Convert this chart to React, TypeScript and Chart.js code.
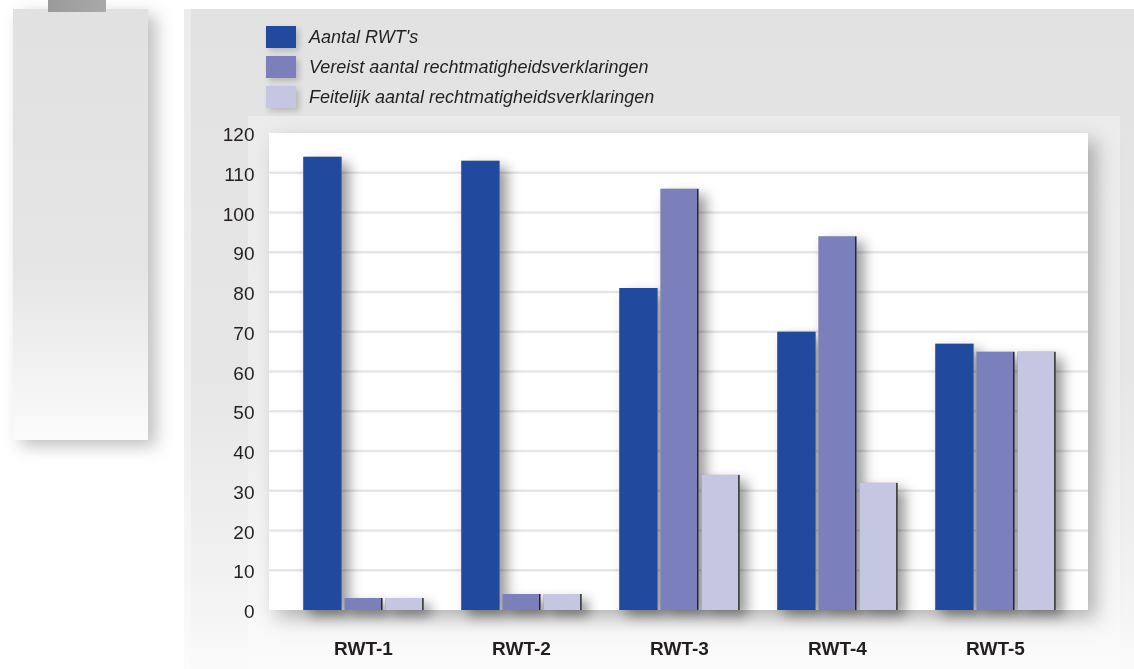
import React, { useEffect, useRef } from "react";
import { Chart, registerables } from "chart.js";
Chart.register(...registerables);

const categories = ["RWT-1", "RWT-2", "RWT-3", "RWT-4", "RWT-5"];
const seriesNames = [
  "Aantal RWT's",
  "Vereist aantal rechtmatigheidsverklaringen",
  "Feitelijk aantal rechtmatigheidsverklaringen",
];
const aantalRWT = [114, 113, 81, 70, 67];
const vereist = [3, 4, 106, 94, 65];
const feitelijk = [3, 4, 34, 32, 65];
const yTicks = [0, 10, 20, 30, 40, 50, 60, 70, 80, 90, 100, 110, 120];
const seriesColors = ["#214a9e", "#7b80bd", "#c4c6e2"];

const FONT = "'Liberation Sans', Arial, Helvetica, sans-serif";
const TEXT = "#231f20";

const backdrop = {
  id: "backdrop",
  beforeDraw(chart: any) {
    const { ctx, width, height } = chart;
    ctx.save();
    ctx.fillStyle = "#ffffff";
    ctx.fillRect(0, 0, width, height);

    // left decorative panel
    ctx.save();
    ctx.shadowColor = "rgba(0,0,0,0.25)";
    ctx.shadowBlur = 16;
    ctx.shadowOffsetX = 8;
    ctx.shadowOffsetY = 6;
    let g = ctx.createLinearGradient(0, 9, 0, 440);
    g.addColorStop(0, "#e1e1e1");
    g.addColorStop(0.6, "#e5e5e5");
    g.addColorStop(1, "#fbfbfb");
    ctx.fillStyle = g;
    ctx.fillRect(13, 9, 135, 431);
    ctx.restore();

    // tab
    g = ctx.createLinearGradient(48, 0, 106, 0);
    g.addColorStop(0, "#9a9a9a");
    g.addColorStop(1, "#a9a9a9");
    ctx.fillStyle = g;
    ctx.fillRect(48, 0, 58, 12);

    // main panel
    g = ctx.createLinearGradient(0, 9, 0, 669);
    g.addColorStop(0, "#e2e2e2");
    g.addColorStop(0.55, "#e6e6e6");
    g.addColorStop(0.85, "#f1f1f1");
    g.addColorStop(1, "#fafafa");
    ctx.fillStyle = g;
    ctx.fillRect(184, 9, 950, 660);
    ctx.fillStyle = "rgba(255,255,255,0.35)";
    ctx.fillRect(184, 9, 7, 660);

    // inner lighter panel
    g = ctx.createLinearGradient(0, 116, 0, 669);
    g.addColorStop(0, "#ececec");
    g.addColorStop(0.6, "#efefef");
    g.addColorStop(1, "#fbfbfb");
    ctx.fillStyle = g;
    ctx.fillRect(248, 116, 872, 553);

    // white plot area
    ctx.save();
    ctx.shadowColor = "rgba(0,0,0,0.28)";
    ctx.shadowBlur = 18;
    ctx.shadowOffsetX = 8;
    ctx.shadowOffsetY = 8;
    ctx.fillStyle = "#ffffff";
    const ys = chart.scales.y;
    const top = ys.getPixelForValue(120);
    const bot = ys.getPixelForValue(0);
    ctx.fillRect(269, top, 819, bot - top);
    ctx.restore();

    // gridlines
    ctx.strokeStyle = "#e6e6e6";
    ctx.lineWidth = 2.5;
    yTicks.forEach((v) => {
      if (v === 0 || v === 120) return;
      const y = ys.getPixelForValue(v);
      ctx.beginPath();
      ctx.moveTo(269, y);
      ctx.lineTo(1088, y);
      ctx.stroke();
    });
    ctx.restore();
  },
};

// draws drop shadows of all bars before any bar is painted
const barShadow = {
  id: "barShadow",
  beforeDatasetsDraw(chart: any) {
    const ctx = chart.ctx;
    ctx.save();
    ctx.shadowColor = "rgba(0,0,0,0.4)";
    ctx.shadowBlur = 12;
    ctx.shadowOffsetX = 7;
    ctx.shadowOffsetY = 6;
    chart.getSortedVisibleDatasetMetas().forEach((meta: any) => {
      meta.data.forEach((el: any) => {
        const p = el.getProps(["x", "y", "width", "base"], true);
        ctx.fillStyle = "#999999";
        ctx.fillRect(p.x - p.width / 2, Math.min(p.y, p.base), p.width, Math.abs(p.base - p.y));
      });
    });
    ctx.restore();
  },
};

const customLegend = {
  id: "customLegend",
  afterDraw(chart: any) {
    const ctx = chart.ctx;
    ctx.save();
    chart.data.datasets.forEach((ds: any, i: number) => {
      const y = 26 + i * 30;
      ctx.save();
      ctx.shadowColor = "rgba(0,0,0,0.2)";
      ctx.shadowBlur = 6;
      ctx.shadowOffsetX = 3;
      ctx.shadowOffsetY = 3;
      ctx.fillStyle = ds.backgroundColor;
      ctx.fillRect(266, y, 30, 22);
      ctx.restore();
      ctx.fillStyle = TEXT;
      ctx.font = `italic 18px ${FONT}`;
      ctx.textBaseline = "middle";
      ctx.textAlign = "left";
      ctx.fillText(ds.label, 309, y + 12);
    });
    ctx.restore();
  },
};

export default function App() {
  const ref = useRef<HTMLCanvasElement | null>(null);
  useEffect(() => {
    document.body.style.margin = "0";
    const values = [aantalRWT, vereist, feitelijk];
    const chart = new Chart(ref.current as HTMLCanvasElement, {
      type: "bar",
      data: {
        labels: categories,
        datasets: seriesNames.map((name, i) => ({
          label: name,
          data: values[i],
          backgroundColor: seriesColors[i],
          borderColor: "#111111",
          borderWidth: i === 0 ? 0 : { top: 0, right: 1.5, bottom: 0, left: 0 },
          borderSkipped: false,
          clip: false as any,
        })),
      },
      options: {
        animation: false,
        responsive: false,
        maintainAspectRatio: false,
        layout: { padding: { top: 133, right: 59.5, bottom: 0, left: 0 } },
        plugins: { legend: { display: false }, tooltip: { enabled: false } },
        datasets: { bar: { categoryPercentage: 0.78, barPercentage: 0.93 } },
        scales: {
          x: {
            grid: { display: false, drawTicks: false },
            border: { display: false },
            ticks: { font: { family: FONT, size: 19, weight: "bold" }, color: TEXT, padding: 28 },
            afterFit: (s: any) => {
              s.height = 59;
            },
          },
          y: {
            min: 0,
            max: 120,
            afterBuildTicks: (s: any) => {
              s.ticks = yTicks.map((v) => ({ value: v }));
            },
            ticks: { font: { family: FONT, size: 19 }, color: TEXT, padding: 30, labelOffset: 3 },
            grid: { display: false, drawTicks: false },
            border: { display: false },
            afterFit: (s: any) => {
              s.width = 284.5;
            },
          },
        },
      },
      plugins: [backdrop, barShadow, customLegend],
    });
    return () => chart.destroy();
  }, []);
  return <canvas ref={ref} width={1134} height={669} style={{ display: "block" }} />;
}
